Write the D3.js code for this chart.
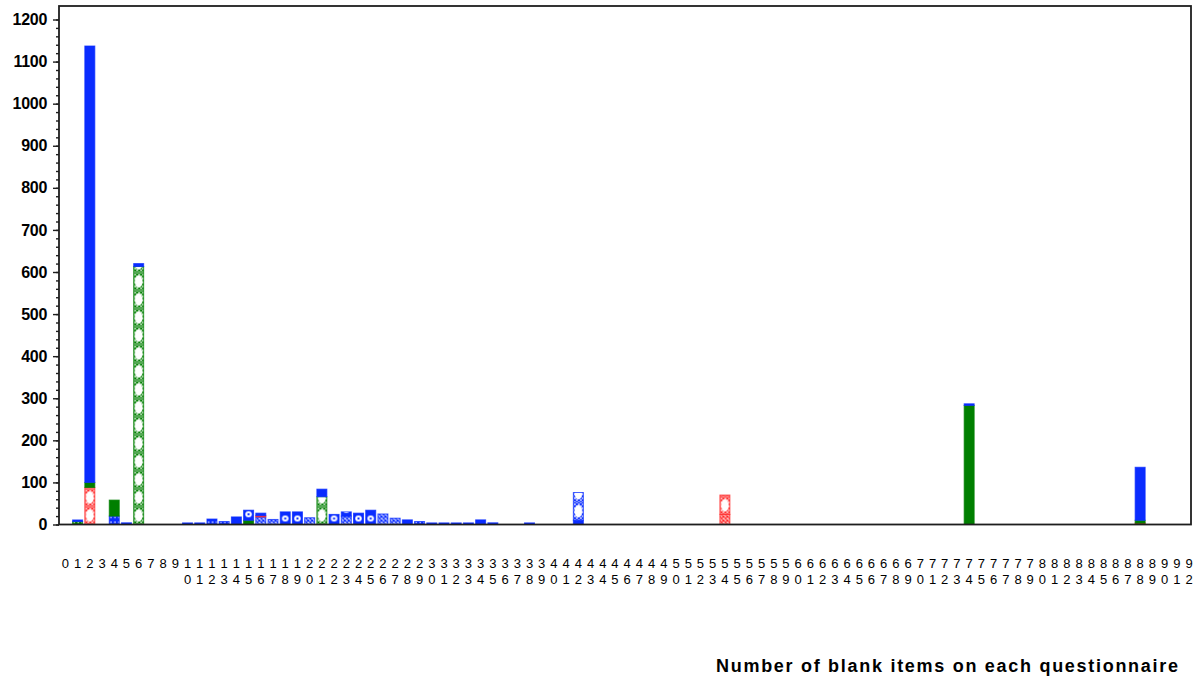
<!DOCTYPE html>
<html>
<head>
<meta charset="utf-8">
<script src="https://cdn.jsdelivr.net/npm/d3@7"></script>
<style>
  body { margin: 0; background: #fff; }
  svg { display: block; }
</style>
</head>
<body>
<svg id="chart" width="1195" height="680"></svg>
<script>
// Number of blank items on a questionnaire (0 .. 92)
const categories = [
  0, 1, 2, 3, 4, 5, 6, 7, 8, 9,
  10, 11, 12, 13, 14, 15, 16, 17, 18, 19,
  20, 21, 22, 23, 24, 25, 26, 27, 28, 29,
  30, 31, 32, 33, 34, 35, 36, 37, 38, 39,
  40, 41, 42, 43, 44, 45, 46, 47, 48, 49,
  50, 51, 52, 53, 54, 55, 56, 57, 58, 59,
  60, 61, 62, 63, 64, 65, 66, 67, 68, 69,
  70, 71, 72, 73, 74, 75, 76, 77, 78, 79,
  80, 81, 82, 83, 84, 85, 86, 87, 88, 89,
  90, 91, 92
];

const yTickValues = [0, 100, 200, 300, 400, 500, 600, 700, 800, 900, 1000, 1100, 1200];

// Stacked segments, listed bottom to top within each category
const segCategory = [
  1, 1,
  2, 2, 2,
  4, 4,
  5,
  6, 6,
  10, 11, 12, 13, 14,
  15, 15,
  16, 16, 16,
  17, 18, 19, 20,
  21, 21,
  22,
  23, 23,
  24, 25, 26, 27, 28, 29, 30, 31, 32, 33, 34, 35, 38,
  42, 42,
  54, 54,
  74, 74,
  88, 88, 88
];
const segGroup = [
  "green", "blue",
  "red", "green", "blue",
  "blue", "green",
  "blue",
  "green", "blue",
  "blue", "blue", "blue", "blue", "blue",
  "green", "blue",
  "blue", "red", "blue",
  "blue", "blue", "blue", "blue",
  "green", "blue",
  "blue",
  "blue", "blue",
  "blue", "blue", "blue", "blue", "blue", "blue", "blue", "blue", "blue", "blue", "blue", "blue", "blue",
  "blue", "blue",
  "red", "red",
  "green", "blue",
  "red", "green", "blue"
];
const segFill = [
  "dots", "solid",
  "circles", "solid", "solid",
  "dots", "solid",
  "solid",
  "circles", "solid",
  "solid", "solid", "dots", "dots", "solid",
  "solid", "arcs",
  "cross", "solid", "solid",
  "cross", "arcs", "arcs", "cross",
  "circles", "solid",
  "arcs",
  "cross", "arcs",
  "arcs", "arcs", "cross", "cross", "solid", "dots", "solid", "solid", "solid", "solid", "solid", "solid", "solid",
  "solid", "circles",
  "cross", "circles",
  "solid", "solid",
  "solid", "solid", "solid"
];
const segValue = [
  7, 3,
  88, 12, 1037,
  20, 38,
  4,
  613, 7,
  3, 3, 13, 7, 18,
  10, 24,
  18, 3, 6,
  12, 30, 30, 16,
  66, 18,
  24,
  20, 10,
  27, 34, 25, 15, 11, 7, 3, 3, 3, 3, 11, 4, 3,
  10, 66,
  24, 46,
  283, 3,
  3, 7, 126
];

const palette = { blue: "#0a2cff", green: "#007f00", red: "#ff2a2a" };

const svg = d3.select("#chart");
const frame = { left: 59, top: 6, right: 1191, bottom: 524.5 };

const x = d3.scaleBand()
  .domain(categories)
  .range([59.9, 1194.5])
  .paddingInner(0.1)
  .paddingOuter(0);

const y = d3.scaleLinear()
  .domain([0, 1200])
  .range([524.5, 19.5]);

// cumulative stacking per category
const segments = segCategory.map((c, i) => ({
  cat: c, group: segGroup[i], fill: segFill[i], value: segValue[i]
}));
const running = new Map();
segments.forEach(s => {
  const base = running.get(s.cat) || 0;
  s.y0 = base;
  s.y1 = base + s.value;
  running.set(s.cat, s.y1);
});

const defs = svg.append("defs");
const bw = x.bandwidth();

// one fill pattern per patterned segment, anchored to its bar
segments.forEach((s, i) => {
  if (s.fill === "solid") return;
  const col = palette[s.group];
  const x0 = x(s.cat);
  const yb = y(s.y0);
  const p = defs.append("pattern")
    .attr("id", "seg" + i)
    .attr("patternUnits", "userSpaceOnUse")
    .attr("x", x0);

  if (s.fill === "cross") {
    p.attr("width", 4).attr("height", 4).attr("y", yb);
    p.append("rect").attr("width", 4).attr("height", 4).attr("fill", "#fff");
    p.append("path").attr("d", "M0,0L4,4M4,0L0,4")
      .attr("stroke", col).attr("stroke-width", 1.3).attr("fill", "none");
  } else if (s.fill === "dots") {
    p.attr("width", 4).attr("height", 5).attr("y", yb);
    p.append("rect").attr("width", 4).attr("height", 5).attr("fill", col);
    p.append("rect").attr("x", 1.5).attr("y", 2).attr("width", 1.4).attr("height", 1.4).attr("fill", "#fff");
  } else if (s.fill === "circles") {
    const th = 18;
    p.attr("width", bw).attr("height", th).attr("y", yb - th);
    p.append("rect").attr("width", bw).attr("height", th).attr("fill", "#fff");
    let d = "";
    for (let k = -th; k <= bw + th; k += 4) {
      d += `M${k},0L${k + th},${th}M${k},0L${k - th},${th}`;
    }
    p.append("path").attr("d", d)
      .attr("stroke", col).attr("stroke-width", 1.2).attr("fill", "none");
    p.append("ellipse")
      .attr("cx", bw / 2).attr("cy", th / 2)
      .attr("rx", bw / 2 - 1.6).attr("ry", 6.2)
      .attr("fill", "#fff");
  } else if (s.fill === "arcs") {
    const th = 12;
    p.attr("width", bw).attr("height", th).attr("y", yb - th);
    p.append("rect").attr("width", bw).attr("height", th).attr("fill", col);
    p.append("ellipse")
      .attr("cx", bw / 2).attr("cy", th / 2)
      .attr("rx", bw / 2 - 2.2).attr("ry", 3)
      .attr("fill", "#fff");
    p.append("rect").attr("x", bw / 2 - 1).attr("y", th / 2 - 1)
      .attr("width", 2).attr("height", 2).attr("fill", col);
  }
});

// bars
svg.append("g")
  .selectAll("rect")
  .data(segments)
  .join("rect")
  .attr("x", d => x(d.cat) + 0.5)
  .attr("y", d => Math.min(y(d.y1), y(d.y0) - 1.6))
  .attr("width", bw - 1)
  .attr("height", d => Math.max(1.6, y(d.y0) - y(d.y1)))
  .attr("fill", (d, i) => d.fill === "solid" ? palette[d.group] : `url(#seg${i})`)
  .attr("stroke", d => palette[d.group])
  .attr("stroke-opacity", 0.75)
  .attr("stroke-width", 1);

// plot frame
svg.append("rect")
  .attr("x", frame.left)
  .attr("y", frame.top)
  .attr("width", frame.right - frame.left)
  .attr("height", frame.bottom - frame.top)
  .attr("fill", "none")
  .attr("stroke", "#1e1e1e")
  .attr("stroke-width", 1.8);

// y axis: minor ticks every 20, major ticks labelled every 100
const yMinor = svg.append("g")
  .attr("transform", `translate(${frame.left},0)`)
  .call(d3.axisLeft(y).tickValues(d3.range(0, 1201, 20)).tickSize(3).tickFormat(""));
yMinor.select(".domain").remove();
yMinor.selectAll("line").attr("stroke", "#1e1e1e").attr("stroke-width", 1.4);

const yMajor = svg.append("g")
  .attr("transform", `translate(${frame.left},0)`)
  .call(d3.axisLeft(y).tickValues(yTickValues).tickSize(6).tickPadding(6).tickFormat(d3.format("d")));
yMajor.select(".domain").remove();
yMajor.selectAll("line").attr("stroke", "#1e1e1e").attr("stroke-width", 1.4);
yMajor.selectAll("text")
  .attr("font-family", "'Liberation Sans', Arial, sans-serif")
  .attr("font-size", 16)
  .attr("font-weight", "bold")
  .attr("letter-spacing", "-0.3")
  .attr("fill", "#000");

// x tick labels: tens digit on the first row, units digit below
const xLab = svg.append("g")
  .attr("font-family", "'Liberation Sans', Arial, sans-serif")
  .attr("font-size", 13)
  .attr("fill", "#000")
  .attr("text-anchor", "middle");

categories.forEach(c => {
  const cx = x(c) + bw / 2;
  const s = String(c);
  if (s.length === 1) {
    xLab.append("text").attr("x", cx).attr("y", 568).text(s);
  } else {
    xLab.append("text").attr("x", cx).attr("y", 568).text(s[0]);
    xLab.append("text").attr("x", cx).attr("y", 584).text(s[1]);
  }
});

// axis title
svg.append("text")
  .attr("x", 716)
  .attr("y", 672)
  .attr("font-family", "'Liberation Sans', Arial, sans-serif")
  .attr("font-size", 18)
  .attr("font-weight", "bold")
  .attr("textLength", 462)
  .attr("lengthAdjust", "spacing")
  .attr("fill", "#000")
  .text("Number of blank items on each questionnaire");
</script>
</body>
</html>
